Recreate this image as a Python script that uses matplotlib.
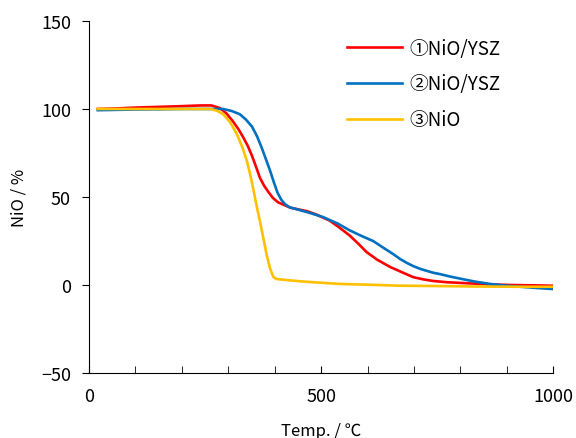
import matplotlib.pyplot as plt

plt.rcParams['font.family'] = ['Noto Sans CJK JP', 'DejaVu Sans']

# curve 1: NiO/YSZ (red)
t1 = [19, 60, 100, 150, 200, 218, 240, 264, 282, 296, 310, 322, 332, 342, 351, 360, 368, 377, 386, 396, 407, 420, 433, 450, 469, 490, 519, 540, 562, 580, 598, 620, 649, 672, 698, 720, 741, 770, 814, 860, 910, 960, 1000]
w1 = [100, 100.3, 100.8, 101.2, 101.6, 101.8, 102, 102, 100.5, 97.5, 93, 88.5, 84, 79, 73.5, 67, 61, 56.5, 53, 49.5, 47, 45.5, 44, 43, 42, 40, 36.5, 32.5, 28, 23.5, 18.7, 14.5, 10.2, 7.5, 4.5, 3.2, 2.3, 1.6, 1, 0.4, 0, -0.2, -0.4]

# curve 2: NiO/YSZ (blue)
t2 = [19, 60, 100, 150, 200, 250, 289, 308, 325, 338, 351, 362, 372, 381, 390, 398, 406, 414, 422, 433, 448, 475, 504, 535, 562, 590, 612, 635, 655, 670, 685, 698, 713, 728, 741, 756, 778, 800, 830, 864, 900, 940, 970, 1000]
w2 = [99.3, 99.5, 99.7, 99.8, 100, 100, 100, 98.8, 97, 94, 90, 84.5, 78, 71.5, 65, 58.5, 52.5, 48.5, 46, 44, 43, 41, 38.6, 35, 31, 27.5, 25, 21, 17.6, 14.8, 12.5, 10.8, 9.2, 8, 7, 6.2, 4.8, 3.6, 2, 0.6, -0.4, -1.2, -1.8, -2.3]

# curve 3: NiO (yellow)
t3 = [19, 60, 100, 150, 200, 240, 261, 276, 289, 304, 318, 330, 340, 347, 353, 358, 363, 368, 376, 383, 390, 397, 404, 430, 470, 541, 600, 670, 756, 850, 930, 1000]
w3 = [100, 100, 100, 100, 100, 100, 100, 99, 97, 92.5, 86, 78.5, 70.6, 63, 55.7, 49, 42.5, 36.5, 26, 16.7, 9.5, 4.5, 3.4, 2.7, 1.8, 0.6, 0.2, -0.4, -0.6, -0.9, -1, -1]

fig = plt.figure(figsize=(5.76, 4.39), dpi=100)
ax = fig.add_axes([0.1545, 0.148, 0.806, 0.802])

ax.plot(t1, w1, color='#FF0000', lw=1.9, label='①NiO/YSZ')
ax.plot(t2, w2, color='#0070C0', lw=1.9, label='②NiO/YSZ')
ax.plot(t3, w3, color='#FFC000', lw=1.9, label='③NiO')

ax.set_xlim(0, 1000)
ax.set_ylim(-50, 150)
ax.set_xticks([0, 500, 1000])
ax.set_xticks(range(0, 1001, 100), minor=True)
ax.set_yticks([-50, 0, 50, 100, 150])
ax.tick_params(axis='x', which='both', direction='in', length=5, labelsize=13, pad=10)
ax.tick_params(axis='y', direction='out', length=5, labelsize=13, pad=8)
ax.set_yticklabels(['\u221250', '0', '50', '100', '150'])

for s in ['top', 'right']:
    ax.spines[s].set_visible(False)

ax.set_xlabel('Temp. / \u2103', fontsize=12, labelpad=12)
ax.set_ylabel('NiO / %', fontsize=12, labelpad=10)

ax.legend(loc='upper left', bbox_to_anchor=(0.52, 1.0), frameon=False, fontsize=13.5,
          handlelength=2.9, labelspacing=0.78, handletextpad=0.4)

fig.savefig('out.png', dpi=100)
